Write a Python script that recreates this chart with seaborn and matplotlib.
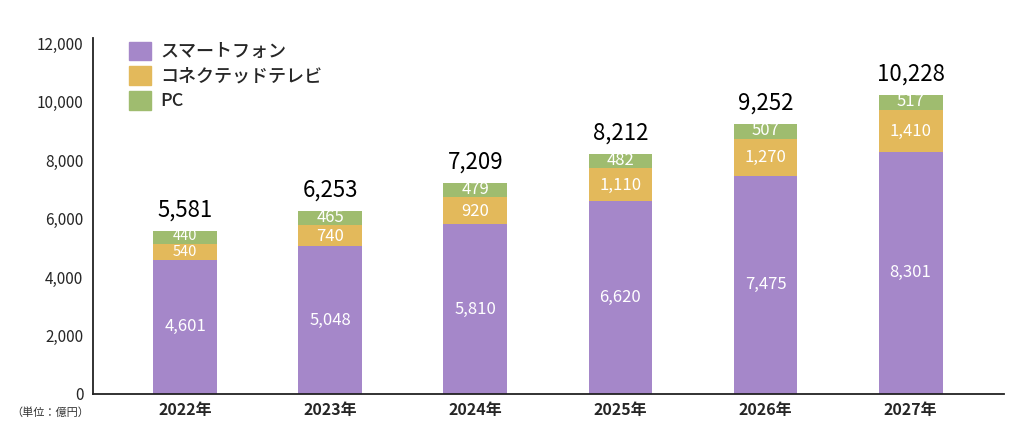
import pandas as pd
import matplotlib.pyplot as plt
import matplotlib.patches as mpatches
import seaborn as sns

# Data (億円)
years = ["2022年", "2023年", "2024年", "2025年", "2026年", "2027年"]
smartphone = [4601, 5048, 5810, 6620, 7475, 8301]
connected_tv = [540, 740, 920, 1110, 1270, 1410]
pc = [440, 465, 479, 482, 507, 517]
series_names = ["スマートフォン", "コネクテッドテレビ", "PC"]
colors = ["#a587c9", "#e3b95b", "#9fbc6f"]

df = pd.DataFrame({"year": years, "sp": smartphone, "tv": connected_tv, "pc": pc})
df["sp_tv"] = df["sp"] + df["tv"]
df["total"] = df["sp_tv"] + df["pc"]

sns.set_style("white")
plt.rcParams["font.family"] = ["Noto Sans CJK JP", "DejaVu Sans"]

fig = plt.figure(figsize=(10.24, 4.29), dpi=100)
ax = fig.add_axes([0.091, 0.082, 0.889, 0.83])

# stacked bars by overlaying cumulative heights
for col, c in zip(["total", "sp_tv", "sp"], colors[::-1]):
    sns.barplot(data=df, x="year", y=col, color=c, width=0.44, ax=ax,
                saturation=1, linewidth=0)

for i in range(len(years)):
    s, t, p, tot = df.loc[i, ["sp", "tv", "pc", "total"]]
    small = 10.5 if t < 600 else 12
    ax.text(i, s / 2, f"{s:,}", ha="center", va="center", color="white", fontsize=12)
    ax.text(i, s + t / 2 - 20, f"{t:,}", ha="center", va="center", color="white", fontsize=small)
    ax.text(i, s + t + p / 2 + 30, f"{p:,}", ha="center", va="center", color="white", fontsize=small)
    ax.text(i, tot + 320, f"{tot:,}", ha="center", va="bottom", color="black", fontsize=16)

ax.set_xlim(-0.634, 5.64)
ax.set_ylim(0, 12200)
ax.set_yticks(range(0, 12001, 2000))
ax.set_yticklabels([f"{v:,}" for v in range(0, 12001, 2000)], fontsize=11)
ax.set_xticklabels(years, fontsize=11.5, fontweight="bold")
ax.set_xlabel("")
ax.set_ylabel("")
ax.tick_params(axis="x", length=0, pad=6)
ax.tick_params(axis="y", length=0, pad=7)
for side in ["top", "right"]:
    ax.spines[side].set_visible(False)
for side in ["left", "bottom"]:
    ax.spines[side].set_color("#222222")
    ax.spines[side].set_linewidth(1.3)

fig.text(0.049, 0.038, "（単位：億円）", fontsize=8, ha="center", va="center", color="#333333")

handles = [mpatches.Patch(color=c, label=n) for c, n in zip(colors, series_names)]
ax.legend(handles=handles, loc="upper left", bbox_to_anchor=(0.022, 1.035), frameon=False,
          prop={"size": 13, "weight": "medium"}, handlelength=1.2, handleheight=1.2,
          handletextpad=0.5, labelspacing=0.3)

fig.savefig("out.png", dpi=100)
